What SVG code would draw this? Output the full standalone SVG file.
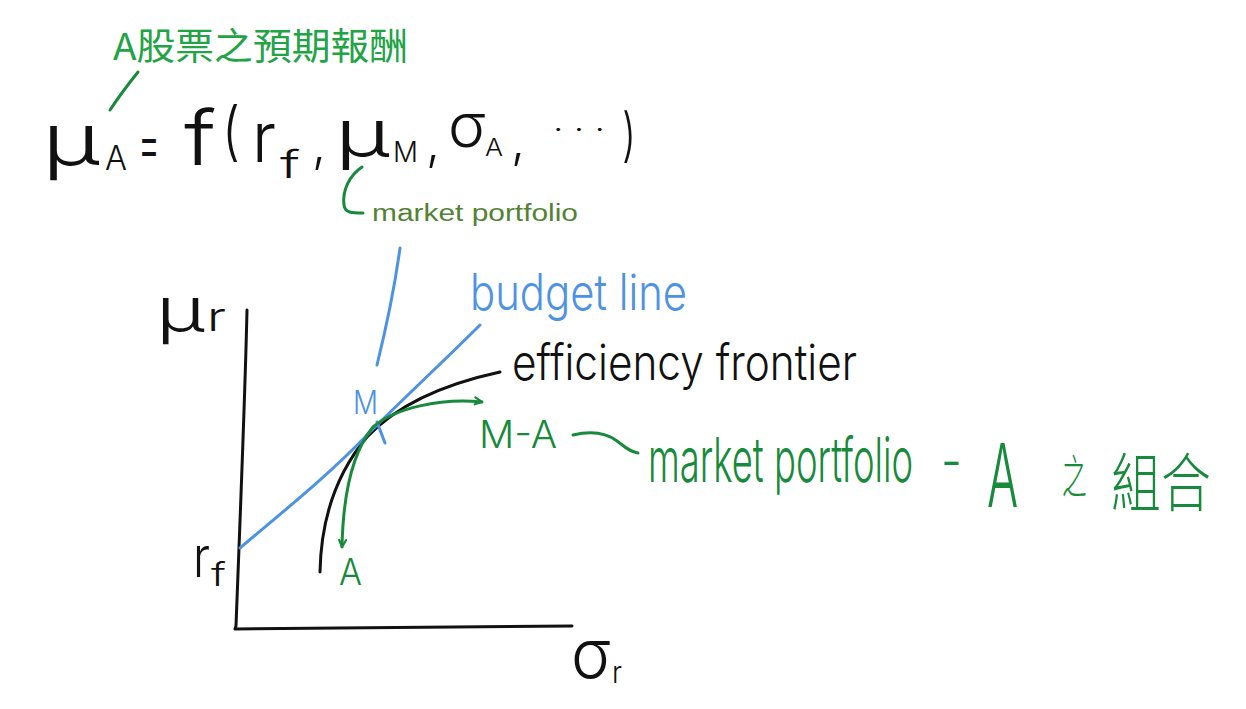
<svg xmlns="http://www.w3.org/2000/svg" width="1246" height="709" viewBox="0 0 1246 709">
<style>
  .hw { font-family: Inter, "Liberation Sans", "Noto Sans CJK TC", sans-serif; font-weight: 300; }
  .cjk { font-family: "Noto Sans CJK TC", sans-serif; font-weight: 300; }
  .k { fill: #111; }
  .g { fill: #178a3b; }
  .b { fill: #4e92e4; }
  .ln { fill: none; stroke-width: 3; stroke-linecap: round; stroke-linejoin: round; }
  .lk { stroke: #111; }
  .lg { stroke: #178a3b; }
  .lb { stroke: #4e92e4; }
</style>
<defs>
  <marker id="arr" viewBox="0 0 10 10" refX="9" refY="5" markerWidth="10" markerHeight="10" markerUnits="userSpaceOnUse" orient="auto-start-reverse">
    <path d="M2,1 L9,5 L2,8" fill="none" stroke="#178a3b" stroke-width="2.2" stroke-linecap="round"/>
  </marker>
</defs>
<rect width="1246" height="709" fill="#ffffff"/>

<g id="title-label">
  <text x="113" y="60" font-family="'Noto Sans CJK TC', sans-serif" font-size="37" fill="#22a345" textLength="295" lengthAdjust="spacingAndGlyphs">A股票之預期報酬</text>
</g>

<g id="formula" class="hw k">
  <text x="42" y="165" font-size="72" textLength="58" lengthAdjust="spacingAndGlyphs">μ</text>
  <text x="105" y="170" font-size="34" textLength="22" lengthAdjust="spacingAndGlyphs">A</text>
  <text x="138" y="166" font-size="64" textLength="22" lengthAdjust="spacingAndGlyphs">=</text>
  <text x="184" y="165" font-size="76" textLength="32" lengthAdjust="spacingAndGlyphs">f</text>
  <text x="222" y="153" font-size="64" textLength="18" lengthAdjust="spacingAndGlyphs">(</text>
  <text x="252" y="162" font-size="70" textLength="24" lengthAdjust="spacingAndGlyphs">r</text>
  <text x="280" y="178" font-size="38" textLength="20" lengthAdjust="spacingAndGlyphs">f</text>
  <text x="312" y="162" font-size="50">,</text>
  <text x="335" y="157" font-size="66" textLength="55" lengthAdjust="spacingAndGlyphs">μ</text>
  <text x="393" y="162" font-size="28" textLength="25" lengthAdjust="spacingAndGlyphs">M</text>
  <text x="426" y="160" font-size="50">,</text>
  <text x="448" y="147" font-size="60" textLength="38" lengthAdjust="spacingAndGlyphs">σ</text>
  <text x="485" y="156" font-size="24" textLength="18" lengthAdjust="spacingAndGlyphs">A</text>
  <text x="511" y="158" font-size="50">,</text>
  <text x="553" y="140" font-size="30" textLength="52" lengthAdjust="spacingAndGlyphs">· · ·</text>
  <text x="622" y="155" font-size="58" textLength="14" lengthAdjust="spacingAndGlyphs">)</text>
</g>

<g id="market-portfolio-label">
  <text x="372" y="221" font-family="'Liberation Sans', sans-serif" font-size="23" fill="#548235" textLength="206" lengthAdjust="spacingAndGlyphs">market portfolio</text>
</g>

<g id="axis-labels" class="hw k">
  <text x="156" y="332" font-size="62" textLength="49" lengthAdjust="spacingAndGlyphs">μ</text>
  <text x="207" y="331" font-size="40" textLength="19" lengthAdjust="spacingAndGlyphs">r</text>
  <text x="193" y="577" font-size="56" textLength="17" lengthAdjust="spacingAndGlyphs">r</text>
  <text x="211" y="586" font-size="32" textLength="15" lengthAdjust="spacingAndGlyphs">f</text>
  <text x="571" y="678" font-size="68" textLength="40" lengthAdjust="spacingAndGlyphs">σ</text>
  <text x="612" y="683" font-size="30" textLength="10" lengthAdjust="spacingAndGlyphs">r</text>
</g>

<g id="budget-line-label">
  <text class="hw b" x="470" y="310" font-size="50" textLength="217" lengthAdjust="spacingAndGlyphs">budget line</text>
</g>

<g id="efficiency-frontier-label">
  <text class="hw k" x="512" y="380" font-size="50" textLength="345" lengthAdjust="spacingAndGlyphs">efficiency frontier</text>
</g>

<g id="point-M">
  <text class="hw b" x="353" y="414" font-size="32" textLength="25" lengthAdjust="spacingAndGlyphs">M</text>
</g>

<g id="point-A">
  <text class="hw g" x="339" y="585" font-size="37" textLength="23" lengthAdjust="spacingAndGlyphs">A</text>
</g>

<g id="M-A-label">
  <text class="hw g" x="479" y="448" font-size="38" textLength="78" lengthAdjust="spacingAndGlyphs">M-A</text>
</g>

<g id="combination-label" class="g">
  <text class="hw" transform="translate(648,482) scale(0.55,1)" x="0" y="0" font-size="62" textLength="482" lengthAdjust="spacingAndGlyphs">market portfolio</text>
  <text class="hw" x="941" y="480" font-size="54" textLength="21" lengthAdjust="spacingAndGlyphs">-</text>
  <text class="hw" transform="translate(987,507) scale(0.6,1)" x="0" y="0" font-size="88" textLength="52" lengthAdjust="spacingAndGlyphs">A</text>
  <text class="cjk" transform="translate(1062,493) scale(0.55,1)" x="0" y="0" font-size="46" textLength="45" lengthAdjust="spacingAndGlyphs">之</text>
  <text class="cjk" transform="translate(1111,506) scale(0.78,1)" x="0" y="0" font-size="64" textLength="128" lengthAdjust="spacingAndGlyphs">組合</text>
</g>

<g id="connectors">
  <!-- axes -->
  <path class="ln lk" d="M247,310 C245,400 240,520 236,626 L235,629 C350,628 470,627 572,626"/>
  <!-- efficiency frontier -->
  <path class="ln lk" d="M320,572 C321,520 335,475 367,437 C395,407 440,385 500,372"/>
  <!-- budget line -->
  <path class="ln lb" d="M240,548 C285,510 330,474 370,432 C405,397 445,360 480,325"/>
  <!-- pointer from market portfolio to M -->
  <path class="ln lb" d="M400,248 Q393,300 377,365"/>
  <!-- tick at M -->
  <path class="ln lb" d="M377,422 L385,443"/>
  <!-- M-A combination curve with arrows -->
  <path class="ln lg" d="M342,547 C343,500 350,455 373,427 C395,408 440,398 482,402" marker-start="url(#arr)" marker-end="url(#arr)"/>
  <!-- slash to title -->
  <path class="ln lg" d="M138,72 Q122,92 110,110"/>
  <!-- bracket to market portfolio -->
  <path class="ln lg" d="M362,167 C350,175 342,190 344,205 C345,213 352,213 363,213"/>
  <!-- squiggle from M-A -->
  <path class="ln lg" d="M573,435 C590,431 605,432 617,441 C625,447 630,452 638,453"/>
</g>
</svg>
